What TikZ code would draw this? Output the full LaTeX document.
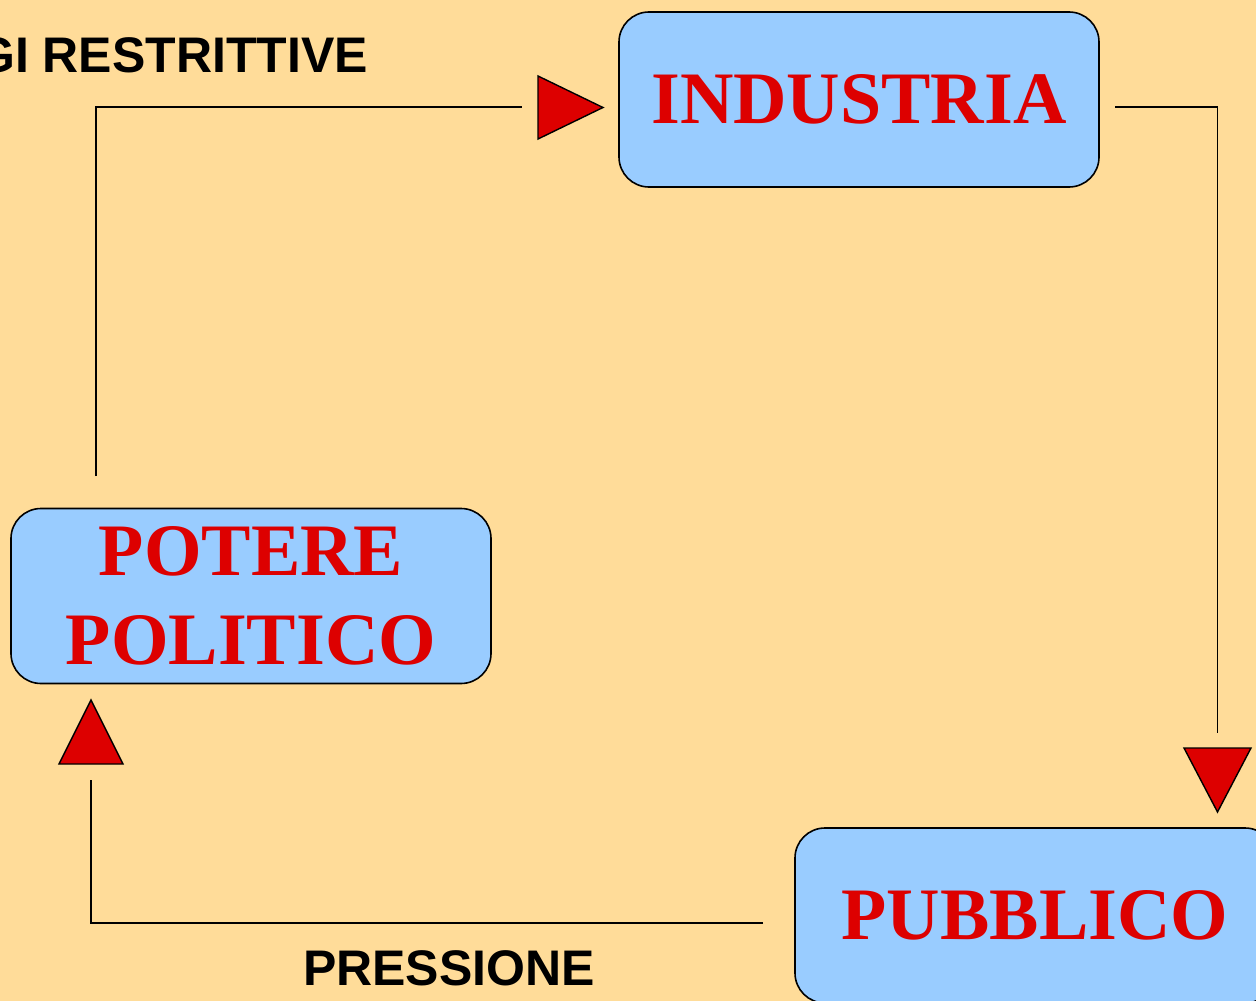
\documentclass[tikz,border=0pt]{standalone}
\usepackage{fontspec}
\setmainfont{Liberation Serif}
\newfontfamily\labelfont{Liberation Sans}
\definecolor{bgc}{HTML}{FFDC99}
\definecolor{boxc}{HTML}{99CCFF}
\definecolor{redc}{HTML}{DD0000}
\begin{document}
\begin{tikzpicture}[x=1pt,y=-1pt,
  box/.style={draw=black,line width=1.6pt,fill=boxc,rounded corners=30pt,
    minimum width=480pt,minimum height=175pt,inner sep=0pt,align=center,
    text=redc,font=\fontsize{74}{89}\selectfont\bfseries},
  conn/.style={draw=black,line width=1.4pt},
  tri/.style={draw=black,line width=1.4pt,fill=redc,line join=miter},
  lbl/.style={inner sep=0pt,font=\labelfont\fontsize{50}{56}\selectfont\bfseries,text=black}]
\useasboundingbox (0,0) rectangle (1256,1001);
\fill[bgc] (0,0) rectangle (1256,1001);
\clip (0,0) rectangle (1256,1001);
% boxes
\node[box] (ind) at (859,99.5) {\raisebox{-2pt}{INDUSTRIA}};
\node[box] (pot) at (251,596) {\raisebox{-2pt}{POTERE}\\\raisebox{-2pt}{POLITICO}};
\node[box] (pub) at (1035,915.5) {\raisebox{-2pt}{PUBBLICO}};
% connector coordinates
\coordinate (a1) at (96,476);
\coordinate (a2) at (96,107);
\coordinate (a3) at (522,107);
\coordinate (b1) at (1115,107);
\coordinate (b2) at (1217.5,107);
\coordinate (b3) at (1217.5,733);
\coordinate (c1) at (763,923);
\coordinate (c2) at (91,923);
\coordinate (c3) at (91,780);
\draw[conn] (a1) -- (a2) -- (a3);
\draw[conn] (b1) -- (b2) -- (b3);
\draw[conn] (c1) -- (c2) -- (c3);
% triangles
\draw[tri] (538,76) -- (538,139) -- (603,107.5) -- cycle;
\draw[tri] (1184,748) -- (1251,748) -- (1217.5,812) -- cycle;
\draw[tri] (59,764) -- (123,764) -- (91,700) -- cycle;
% labels
\node[lbl,anchor=base east] (leggi) at (368,72) {LEGGI RESTRITTIVE};
\node[lbl,anchor=base] (press) at (449,985) {PRESSIONE};
\end{tikzpicture}
\end{document}
